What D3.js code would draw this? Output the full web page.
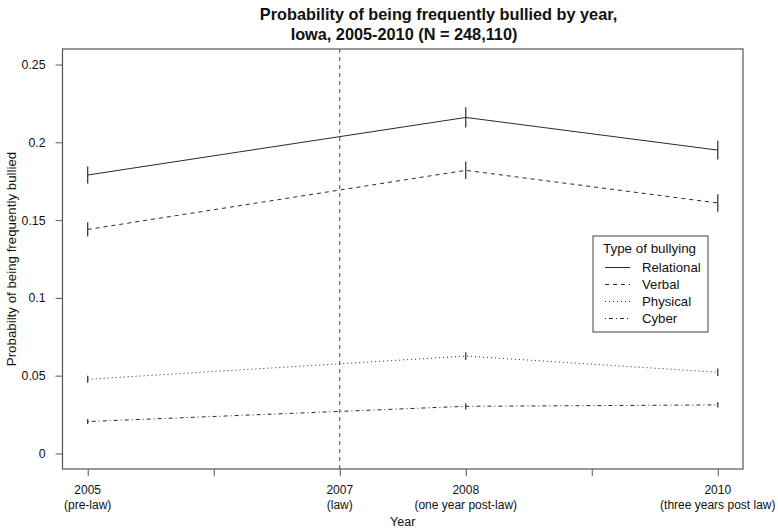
<!DOCTYPE html>
<html>
<head>
<meta charset="utf-8">
<script src="https://cdn.jsdelivr.net/npm/d3@7"></script>
<style>
  body { margin: 0; background: #fff; }
  svg { display: block; font-family: "Liberation Sans", Arial, sans-serif; }
</style>
</head>
<body>
<svg id="chart" width="778" height="532"></svg>
<script>
// ---- data ----
const years = [2005, 2008, 2010];
const relational = [0.179, 0.216, 0.195];
const relationalErr = [0.0055, 0.0065, 0.006];
const verbal = [0.144, 0.182, 0.161];
const verbalErr = [0.0046, 0.0056, 0.0056];
const physical = [0.0477, 0.0626, 0.0522];
const physicalErr = [0.0023, 0.0025, 0.0024];
const cyber = [0.0205, 0.0303, 0.0312];
const cyberErr = [0.0016, 0.002, 0.0017];
const seriesNames = ["Relational", "Verbal", "Physical", "Cyber"];
const xTickValues = [2005, 2006, 2007, 2008, 2009, 2010];
const xTickLabels = { 2005: ["2005", "(pre-law)"], 2007: ["2007", "(law)"], 2008: ["2008", "(one year post-law)"], 2010: ["2010", "(three years post law)"] };
const yTickValues = [0, 0.05, 0.1, 0.15, 0.2, 0.25];
const yTickLabels = ["0", "0.05", "0.1", "0.15", "0.2", "0.25"];
const lawYear = 2007;
const titleLines = ["Probability of being frequently bullied by year,", "Iowa, 2005-2010 (N = 248,110)"];

const dashes = [null, "4,4", "1,3", "1,3,4,3"];
const ink = "#2a2a2a";

const svg = d3.select("#chart");
const L = 62.5, R = 743, T = 49, B = 469;
const x = d3.scaleLinear().domain([2004.8, 2010.2]).range([L, R]);
const y = d3.scaleLinear().domain([-0.01, 0.26]).range([B, T]);

// title
svg.append("text").attr("x", 438.5).attr("y", 20).attr("text-anchor", "middle")
  .attr("font-weight", "bold").attr("font-size", 16.3).attr("fill", "#111").text(titleLines[0]);
svg.append("text").attr("x", 404).attr("y", 40).attr("text-anchor", "middle")
  .attr("font-weight", "bold").attr("font-size", 16.3).attr("fill", "#111").text(titleLines[1]);

// box
svg.append("rect").attr("x", L).attr("y", T).attr("width", R - L).attr("height", B - T)
  .attr("fill", "none").attr("stroke", "#555").attr("stroke-width", 1.2);

// y axis
const yAxis = d3.axisLeft(y).tickValues(yTickValues).tickSize(7).tickPadding(10)
  .tickFormat((d, i) => yTickLabels[i]);
const gy = svg.append("g").attr("transform", `translate(${L},0)`).call(yAxis);
gy.select(".domain").remove();
gy.selectAll("line").attr("stroke", "#555");
gy.selectAll("text").attr("font-size", 12.3).attr("fill", "#111").attr("font-family", "Liberation Sans, Arial, sans-serif");

// x axis
const xAxis = d3.axisBottom(x).tickValues(xTickValues).tickSize(7).tickFormat("");
const gx = svg.append("g").attr("transform", `translate(0,${B})`).call(xAxis);
gx.select(".domain").remove();
gx.selectAll("line").attr("stroke", "#555");
xTickValues.forEach(v => {
  const lab = xTickLabels[v];
  if (!lab) return;
  const t = svg.append("text").attr("text-anchor", "middle").attr("font-size", 12).attr("fill", "#111");
  t.append("tspan").attr("x", x(v)).attr("y", 493.5).text(lab[0]);
  t.append("tspan").attr("x", x(v)).attr("y", 509).text(lab[1]);
});

// axis titles
svg.append("text").attr("x", (L + R) / 2).attr("y", 526).attr("text-anchor", "middle")
  .attr("font-size", 12.5).attr("fill", "#111").text("Year");
svg.append("text").attr("transform", `translate(15.5,${(T + B) / 2}) rotate(-90)`)
  .attr("text-anchor", "middle").attr("font-size", 13.3).attr("fill", "#111")
  .text("Probabilty of being frequently bullied");

// law line
svg.append("line").attr("x1", x(lawYear)).attr("x2", x(lawYear)).attr("y1", T).attr("y2", B)
  .attr("stroke", "#444").attr("stroke-dasharray", "4,4");

// series
const allVals = [relational, verbal, physical, cyber];
const allErr = [relationalErr, verbalErr, physicalErr, cyberErr];
const line = d3.line().x(d => x(d.year)).y(d => y(d.v));
allVals.forEach((vals, si) => {
  const pts = years.map((yr, i) => ({ year: yr, v: vals[i], e: allErr[si][i] }));
  const p = svg.append("path").datum(pts).attr("d", line).attr("fill", "none")
    .attr("stroke", ink).attr("stroke-width", 1);
  if (dashes[si]) p.attr("stroke-dasharray", dashes[si]);
  svg.selectAll(null).data(pts).enter().append("line")
    .attr("x1", d => x(d.year)).attr("x2", d => x(d.year))
    .attr("y1", d => y(d.v - d.e)).attr("y2", d => y(d.v + d.e))
    .attr("stroke", ink).attr("stroke-width", 1.2);
});

// legend
const lg = svg.append("g");
lg.append("rect").attr("x", 593).attr("y", 236).attr("width", 115).attr("height", 96)
  .attr("fill", "#fff").attr("stroke", "#444").attr("stroke-width", 1);
lg.append("text").attr("x", 603).attr("y", 252.5).attr("font-size", 13.4).attr("fill", "#111").text("Type of bullying");
seriesNames.forEach((n, i) => {
  const yy = 267.5 + i * 17;
  const l = lg.append("line").attr("x1", 605).attr("x2", 630).attr("y1", yy).attr("y2", yy)
    .attr("stroke", ink).attr("stroke-width", 1);
  if (dashes[i]) l.attr("stroke-dasharray", dashes[i]);
  lg.append("text").attr("x", 642).attr("y", yy + 4.8).attr("font-size", 13.2).attr("fill", "#111").text(n);
});
</script>
</body>
</html>
